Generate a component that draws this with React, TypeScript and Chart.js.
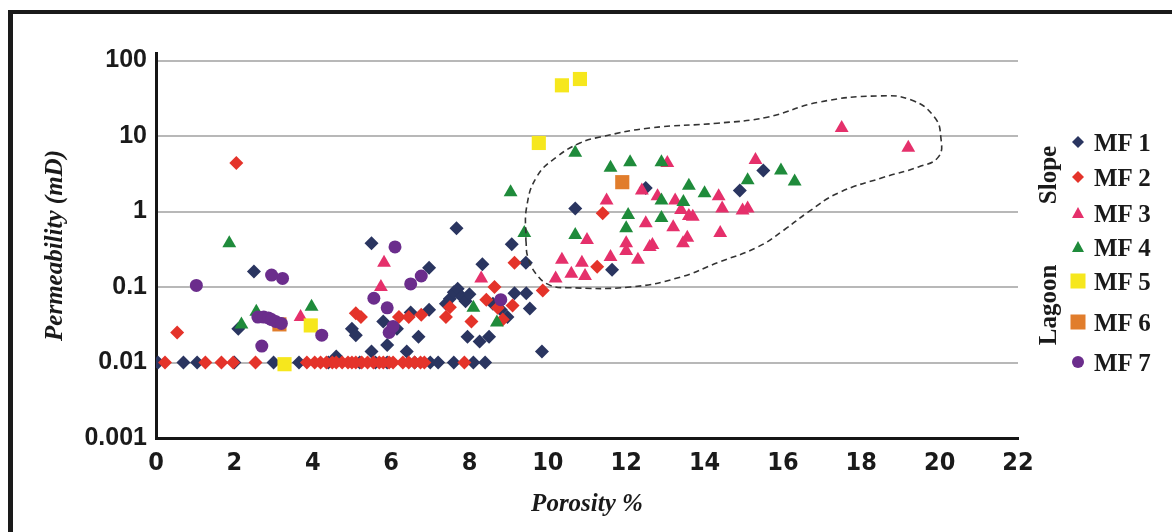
import React, { useEffect, useRef } from "react";
import { Chart, registerables } from "chart.js";

Chart.register(...registerables);

// ---------- axis ticks ----------
const xTickValues = [0, 2, 4, 6, 8, 10, 12, 14, 16, 18, 20, 22];
const yTickValues = [0.001, 0.01, 0.1, 1, 10, 100];
const yTickLabels = ["0.001", "0.01", "0.1", "1", "10", "100"];

// ---------- MF 1 (navy diamonds) ----------
const mf1Porosity = [
  0.05, 0.7, 1.05, 2.0, 3.0, 3.65, 4.4, 5.2, 5.6, 5.9, 6.6, 7.0, 7.2, 7.6, 8.1, 8.4,
  2.1, 2.5, 4.6, 5.0, 5.1, 5.5, 5.5, 5.8, 5.9, 6.15, 6.4, 6.5, 6.7, 6.97, 6.97,
  7.67, 7.4, 7.5, 7.6, 7.7, 7.8, 7.9, 8.0, 7.95, 8.26, 8.33, 8.5, 8.6, 8.8, 8.97,
  9.08, 9.15, 9.44, 9.45, 9.54, 9.85, 10.7, 11.64, 12.5, 14.9, 15.5,
];
const mf1Permeability = [
  0.01, 0.01, 0.01, 0.01, 0.01, 0.01, 0.01, 0.01, 0.01, 0.01, 0.01, 0.01, 0.01, 0.01, 0.01, 0.01,
  0.028, 0.16, 0.012, 0.028, 0.023, 0.38, 0.014, 0.035, 0.017, 0.028, 0.014, 0.046, 0.022, 0.05, 0.18,
  0.6, 0.06, 0.07, 0.085, 0.095, 0.075, 0.065, 0.08, 0.022, 0.019, 0.2, 0.022, 0.06, 0.05, 0.04,
  0.37, 0.083, 0.21, 0.083, 0.052, 0.014, 1.1, 0.17, 2.05, 1.9, 3.5,
];

// ---------- MF 2 (red diamonds) ----------
const mf2Porosity = [
  0.23, 1.26, 1.67, 1.97, 2.54, 3.85, 4.05, 4.2, 4.35, 4.5, 4.6, 4.75, 4.9, 5.0, 5.1,
  5.25, 5.4, 5.55, 5.7, 5.8, 5.95, 6.05, 6.3, 6.45, 6.6, 6.75, 6.85, 7.87,
  0.54, 2.05, 5.1, 5.23, 6.2, 6.45, 6.77, 7.4, 7.5, 8.05, 8.43, 8.64, 8.72, 8.85,
  9.1, 9.15, 9.87, 11.26, 11.4,
];
const mf2Permeability = [
  0.01, 0.01, 0.01, 0.01, 0.01, 0.01, 0.01, 0.01, 0.01, 0.01, 0.01, 0.01, 0.01, 0.01, 0.01,
  0.01, 0.01, 0.01, 0.01, 0.01, 0.01, 0.01, 0.01, 0.01, 0.01, 0.01, 0.01, 0.01,
  0.025, 4.4, 0.045, 0.04, 0.04, 0.04, 0.043, 0.04, 0.054, 0.035, 0.068, 0.1, 0.053, 0.037,
  0.057, 0.21, 0.09, 0.185, 0.95,
];

// ---------- MF 3 (pink triangles) ----------
const mf3Porosity = [
  3.69, 5.74, 5.82, 8.3, 10.2, 10.36, 10.6, 10.87, 10.95, 11.0, 11.5, 11.6, 12.0, 12.0,
  12.3, 12.4, 12.5, 12.6, 12.67, 12.8, 13.05, 13.2, 13.25, 13.4, 13.45, 13.56, 13.6, 13.7,
  14.36, 14.45, 14.4, 14.97, 15.1, 15.3, 17.5, 19.2,
];
const mf3Permeability = [
  0.04, 0.1, 0.21, 0.13, 0.13, 0.23, 0.15, 0.21, 0.14, 0.42, 1.4, 0.25, 0.3, 0.38,
  0.23, 1.9, 0.7, 0.34, 0.36, 1.6, 4.4, 0.62, 1.4, 1.05, 0.38, 0.45, 0.87, 0.85,
  1.6, 1.1, 0.52, 1.03, 1.1, 4.8, 12.8, 7.0,
];

// ---------- MF 4 (green triangles) ----------
const mf4Porosity = [
  1.87, 2.18, 2.56, 3.97, 8.1, 8.7, 9.05, 9.4, 10.7, 10.7, 11.6, 12.1, 12.9, 12.05,
  12.0, 12.9, 12.9, 13.6, 13.46, 14.0, 15.1, 15.95, 16.3,
];
const mf4Permeability = [
  0.38, 0.032, 0.047, 0.055, 0.053, 0.034, 1.8, 0.52, 6.0, 0.49, 3.8, 4.5, 4.5, 0.9,
  0.6, 1.4, 0.82, 2.2, 1.34, 1.75, 2.6, 3.5, 2.5,
];

// ---------- MF 5 (yellow squares) ----------
const mf5Porosity = [3.28, 3.95, 9.77, 10.36, 10.82];
const mf5Permeability = [0.0095, 0.031, 8.1, 47, 57];

// ---------- MF 6 (orange squares) ----------
const mf6Porosity = [11.9, 3.15];
const mf6Permeability = [2.45, 0.032];

// ---------- MF 7 (purple circles) ----------
const mf7Porosity = [
  1.03, 2.7, 2.6, 2.75, 2.87, 2.95, 3.05, 3.2, 2.95, 3.23, 4.23, 5.56, 5.9, 6.1,
  5.95, 6.05, 6.5, 6.77, 8.8,
];
const mf7Permeability = [
  0.105, 0.0165, 0.04, 0.04, 0.039, 0.037, 0.035, 0.033, 0.144, 0.13, 0.023, 0.071, 0.053, 0.34,
  0.025, 0.03, 0.11, 0.14, 0.068,
];

// ---------- dashed envelope (slope field) ----------
const envelopePorosity = [
  9.44, 9.49, 9.72, 10.05, 10.49, 12.1, 13.38, 14.33, 15.36, 16.03, 16.64, 17.41, 18.59,
  19.46, 19.97, 20.03, 19.87, 19.28, 18.44, 16.9, 15.6, 14.33, 12.6, 11.33, 10.82, 10.23,
  9.72, 9.46, 9.44,
];
const envelopePermeability = [
  0.42, 0.25, 0.145, 0.106, 0.098, 0.1, 0.135, 0.21, 0.34, 0.57, 0.98, 1.76, 2.86,
  3.9, 5.3, 9.7, 17.8, 30, 34, 28, 17.8, 14.8, 12.8, 9.7, 8.1, 5.3,
  2.9, 1.15, 0.42,
];

const seriesNames = ["MF 1", "MF 2", "MF 3", "MF 4", "MF 5", "MF 6", "MF 7"];
const seriesColors = ["#2a3560", "#e4332a", "#e5306b", "#1f8b3b", "#f6e71d", "#e17d2c", "#6b2d8c"];
const seriesShapes = ["rectRot", "rectRot", "triangle", "triangle", "rect", "rect", "circle"];
const seriesRadius = [7, 7, 8, 8, 10, 10, 6.5];
const seriesPorosity = [mf1Porosity, mf2Porosity, mf3Porosity, mf4Porosity, mf5Porosity, mf6Porosity, mf7Porosity];
const seriesPermeability = [mf1Permeability, mf2Permeability, mf3Permeability, mf4Permeability, mf5Permeability, mf6Permeability, mf7Permeability];

const legendY = [142, 177, 213, 247, 281, 322, 362];

const pairs = (xs: number[], ys: number[]) => xs.map((x, i) => ({ x, y: ys[i] }));

function LegendMarker({ i }: { i: number }) {
  const c = seriesColors[i];
  const s = seriesShapes[i];
  if (s === "rectRot") {
    return (
      <svg width="16" height="16" style={{ display: "block" }}>
        <polygon points="8,2 14,8 8,14 2,8" fill={c} />
      </svg>
    );
  }
  if (s === "triangle") {
    return (
      <svg width="16" height="16" style={{ display: "block" }}>
        <polygon points="8,2 14,13 2,13" fill={c} />
      </svg>
    );
  }
  if (s === "rect") {
    return (
      <svg width="16" height="16" style={{ display: "block" }}>
        <rect x="0.5" y="0.5" width="15" height="15" fill={c} />
      </svg>
    );
  }
  return (
    <svg width="16" height="16" style={{ display: "block" }}>
      <circle cx="8" cy="8" r="6" fill={c} />
    </svg>
  );
}

export default function App() {
  const canvasRef = useRef<HTMLCanvasElement | null>(null);

  useEffect(() => {
    const canvas = canvasRef.current;
    if (!canvas) return;

    const datasets: any[] = seriesNames.map((name, i) => ({
      label: name,
      data: pairs(seriesPorosity[i], seriesPermeability[i]),
      pointStyle: seriesShapes[i],
      pointRadius: seriesRadius[i],
      backgroundColor: seriesColors[i],
      borderColor: seriesColors[i],
      pointBorderWidth: 0,
      showLine: false,
      order: 10 - i,
    }));

    datasets.push({
      label: "envelope",
      data: pairs(envelopePorosity, envelopePermeability),
      showLine: true,
      tension: 0.45,
      borderColor: "#333333",
      borderWidth: 1.6,
      borderDash: [6, 4],
      pointRadius: 0,
      fill: false,
      order: 0,
    });

    const serifTitle = { family: "'Liberation Serif', 'Times New Roman', serif", size: 25, style: "italic" as const, weight: "bold" as const };

    const chart = new Chart(canvas, {
      type: "scatter",
      data: { datasets },
      options: {
        animation: false,
        responsive: false,
        maintainAspectRatio: false,
        layout: { padding: { left: 8, right: 154, top: 53, bottom: 0 } },
        plugins: {
          legend: { display: false },
          tooltip: { enabled: false },
        },
        scales: {
          x: {
            type: "linear",
            min: 0,
            max: 22,
            afterBuildTicks: (s: any) => {
              s.ticks = xTickValues.map((v) => ({ value: v }));
            },
            afterFit: (s: any) => {
              s.height = 94;
            },
            grid: { display: false, drawTicks: false },
            border: { display: true, color: "#151515", width: 3 },
            ticks: {
              color: "#1a1a1a",
              autoSkip: false,
              maxRotation: 0,
              padding: 10,
              font: { family: "'Liberation Sans Narrow', 'DejaVu Sans Condensed', 'Liberation Sans', Arial, sans-serif", size: 25, weight: "bold" },
            },
            title: {
              display: true,
              text: "Porosity %",
              color: "#1a1a1a",
              font: serifTitle,
              padding: { top: 0, bottom: 12 },
            },
          },
          y: {
            type: "logarithmic",
            min: 0.001,
            max: 126,
            afterBuildTicks: (s: any) => {
              s.ticks = yTickValues.map((v) => ({ value: v }));
            },
            afterFit: (s: any) => {
              s.width = 148;
            },
            grid: { color: "#b8b8b8", lineWidth: 2, drawTicks: false },
            border: { display: true, color: "#151515", width: 3 },
            ticks: {
              color: "#1a1a1a",
              padding: 9,
              autoSkip: false,
              callback: (v: any) => {
                const idx = yTickValues.findIndex((t) => Math.abs(Math.log10(t) - Math.log10(Number(v))) < 1e-6);
                return idx >= 0 ? yTickLabels[idx] : "";
              },
              font: { family: "'Liberation Sans', Arial, sans-serif", size: 25, weight: "bold" },
            },
            title: {
              display: true,
              text: "Permeability (mD)",
              color: "#1a1a1a",
              font: serifTitle,
              padding: { top: 33, bottom: 0 },
            },
          },
        },
      },
    });

    return () => chart.destroy();
  }, []);

  const serif = "'Liberation Serif', 'Times New Roman', serif";

  return (
    <div style={{ position: "fixed", left: 0, top: 0, width: 1172, height: 532, background: "#ffffff", overflow: "hidden" }}>
      <canvas ref={canvasRef} width={1172} height={532} style={{ position: "absolute", left: 0, top: 0, width: 1172, height: 532 }} />
      {/* figure frame (top and left edges) */}
      <div style={{ position: "absolute", left: 8, top: 10, width: 1164, height: 4, background: "#1a1a1a" }} />
      <div style={{ position: "absolute", left: 8, top: 10, width: 5, height: 522, background: "#1a1a1a" }} />
      {/* group labels */}
      <div
        style={{
          position: "absolute",
          left: 1047,
          top: 175,
          transform: "translate(-50%, -50%) rotate(-90deg)",
          fontFamily: serif,
          fontWeight: "bold",
          fontSize: 25,
          color: "#1a1a1a",
          whiteSpace: "nowrap",
          lineHeight: 1,
        }}
      >
        Slope
      </div>
      <div
        style={{
          position: "absolute",
          left: 1047,
          top: 305,
          transform: "translate(-50%, -50%) rotate(-90deg)",
          fontFamily: serif,
          fontWeight: "bold",
          fontSize: 25,
          color: "#1a1a1a",
          whiteSpace: "nowrap",
          lineHeight: 1,
        }}
      >
        Lagoon
      </div>
      {seriesNames.map((name, i) => (
        <div key={name}>
          <div style={{ position: "absolute", left: 1070, top: legendY[i] - 8 }}>
            <LegendMarker i={i} />
          </div>
          <div
            style={{
              position: "absolute",
              left: 1094,
              top: legendY[i],
              transform: "translateY(-50%)",
              fontFamily: serif,
              fontWeight: "bold",
              fontSize: 25,
              color: "#1a1a1a",
              whiteSpace: "nowrap",
              lineHeight: 1,
            }}
          >
            {name}
          </div>
        </div>
      ))}
    </div>
  );
}
